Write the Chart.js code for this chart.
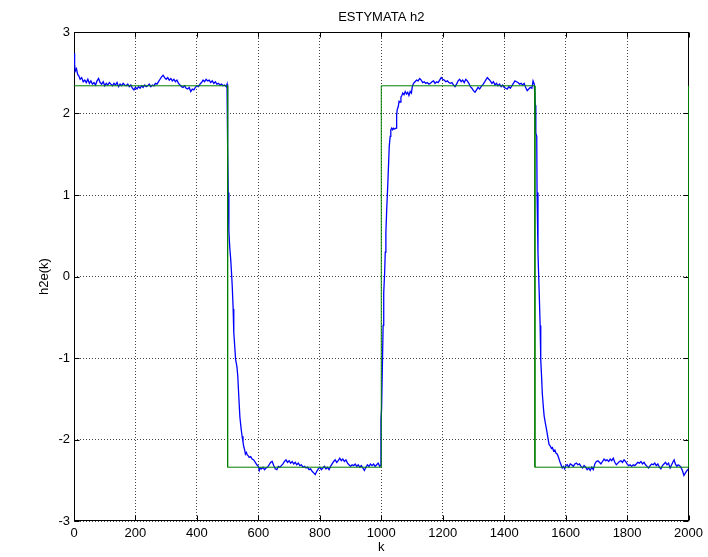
<!DOCTYPE html>
<html>
<head>
<meta charset="utf-8">
<title>ESTYMATA h2</title>
<script src="https://cdn.jsdelivr.net/npm/chart.js@4.4.1/dist/chart.umd.min.js"></script>
<style>
  html, body { margin: 0; padding: 0; background: #fff; }
  canvas { display: block; }
</style>
</head>
<body>
<canvas id="wykres" width="708" height="557"></canvas>
<script>
// tick values on both axes
var kTicks = [0, 200, 400, 600, 800, 1000, 1200, 1400, 1600, 1800, 2000];
var h2Ticks = [-3, -2, -1, 0, 1, 2, 3];

// true parameter h2 (square wave)
var refK  = [0, 500, 500, 1000, 1000, 1500, 1500, 2000, 2000];
var refH2 = [2.34, 2.34, -2.34, -2.34, 2.34, 2.34, -2.34, -2.34, 2.34];

// estimate h2e(k), [k, value]
var h2e = [
  [0,2.74],[2,2.60],[4,2.52],[8,2.55],[12,2.48],[16,2.46],[20,2.42],[25,2.44],[30,2.39],[35,2.41],
  [40,2.38],[45,2.42],[50,2.37],[55,2.40],[60,2.36],[65,2.38],[70,2.35],[75,2.40],[80,2.43],[85,2.38],
  [90,2.36],[95,2.39],[100,2.34],[105,2.37],[110,2.35],[115,2.38],[120,2.36],[125,2.34],[130,2.37],[135,2.35],
  [140,2.38],[145,2.33],[150,2.36],[155,2.34],[160,2.37],[165,2.35],[170,2.34],[175,2.36],[180,2.33],[185,2.35],
  [190,2.31],[195,2.29],[200,2.32],[205,2.30],[210,2.33],[215,2.31],[220,2.34],[225,2.32],[230,2.35],[235,2.33],
  [240,2.34],[245,2.36],[250,2.33],[255,2.35],[260,2.34],[265,2.37],[270,2.36],[275,2.39],[280,2.42],[285,2.45],
  [290,2.47],[295,2.44],[300,2.42],[305,2.44],[310,2.41],[315,2.43],[320,2.40],[325,2.42],[330,2.39],[335,2.41],
  [340,2.37],[345,2.35],[350,2.33],[355,2.32],[360,2.34],[365,2.31],[370,2.30],[375,2.32],[380,2.27],[385,2.30],
  [390,2.29],[395,2.32],[400,2.34],[405,2.33],[410,2.36],[415,2.38],[420,2.41],[425,2.39],[430,2.42],[435,2.40],
  [440,2.41],[445,2.38],[450,2.40],[455,2.37],[460,2.39],[465,2.36],[470,2.37],[475,2.35],[480,2.36],[485,2.34],
  [490,2.35],[495,2.33],[498,2.36],
  [500,1.60],[502,1.03],[504,0.56],[507,0.35],[510,0.21],[513,0.02],[515,-0.12],[518,-0.40],[520,-0.69],[523,-0.85],
  [526,-1.02],[530,-1.10],[533,-1.22],[536,-1.45],[540,-1.73],[544,-1.87],[547,-1.96],[550,-2.03],[552,-2.08],[555,-2.12],
  [558,-2.18],[561,-2.16],[564,-2.19],[567,-2.20],[570,-2.22],[575,-2.21],[580,-2.24],[585,-2.25],[590,-2.28],[595,-2.31],
  [600,-2.33],[603,-2.38],[606,-2.35],[610,-2.36],[615,-2.34],[620,-2.37],[625,-2.35],[630,-2.34],[635,-2.31],[640,-2.28],
  [645,-2.27],[650,-2.32],[655,-2.36],[660,-2.37],[665,-2.33],[670,-2.34],[675,-2.32],[680,-2.30],[685,-2.27],[690,-2.25],
  [695,-2.28],[700,-2.26],[705,-2.29],[710,-2.27],[715,-2.30],[720,-2.28],[725,-2.31],[730,-2.29],[735,-2.32],[740,-2.31],
  [745,-2.34],[750,-2.33],[755,-2.35],[760,-2.34],[765,-2.37],[770,-2.36],[775,-2.39],[780,-2.41],[785,-2.43],[790,-2.39],
  [795,-2.36],[800,-2.34],[805,-2.37],[810,-2.35],[815,-2.33],[820,-2.36],[825,-2.34],[830,-2.37],[835,-2.33],[840,-2.30],
  [845,-2.27],[850,-2.25],[855,-2.28],[860,-2.26],[865,-2.23],[870,-2.26],[875,-2.24],[880,-2.27],[885,-2.25],[890,-2.29],
  [895,-2.31],[900,-2.33],[905,-2.31],[910,-2.32],[915,-2.30],[920,-2.33],[925,-2.31],[930,-2.34],[935,-2.32],[940,-2.35],
  [945,-2.38],[950,-2.34],[955,-2.31],[960,-2.33],[965,-2.30],[970,-2.32],[975,-2.30],[980,-2.33],[985,-2.31],[990,-2.29],
  [995,-2.33],[998,-2.32],
  [999,-1.75],[1001,-1.63],[1004,-1.02],[1006,-0.60],[1008,-0.20],[1011,0.05],[1013,0.30],[1015,0.54],[1018,0.85],[1021,1.11],
  [1024,1.40],[1026,1.60],[1029,1.72],[1031,1.80],[1034,1.82],[1037,1.80],[1040,1.82],[1044,1.81],[1048,1.82],[1050,1.98],
  [1052,2.05],[1055,2.08],[1058,2.15],[1061,2.14],[1064,2.20],[1067,2.22],[1070,2.25],[1074,2.23],[1078,2.27],[1082,2.24],
  [1086,2.26],[1090,2.22],[1094,2.27],[1098,2.25],[1101,2.33],[1105,2.37],[1110,2.39],[1115,2.41],[1120,2.40],[1125,2.43],
  [1130,2.41],[1135,2.38],[1140,2.39],[1145,2.37],[1150,2.38],[1155,2.36],[1160,2.37],[1165,2.39],[1170,2.40],[1175,2.37],
  [1180,2.39],[1185,2.38],[1190,2.41],[1195,2.44],[1200,2.42],[1205,2.41],[1210,2.39],[1215,2.40],[1220,2.38],[1225,2.37],
  [1230,2.38],[1235,2.35],[1240,2.33],[1245,2.36],[1250,2.40],[1255,2.42],[1260,2.39],[1265,2.41],[1270,2.38],[1275,2.42],
  [1280,2.40],[1285,2.37],[1290,2.33],[1295,2.31],[1300,2.28],[1305,2.26],[1310,2.29],[1315,2.32],[1320,2.30],[1325,2.33],
  [1330,2.35],[1335,2.38],[1340,2.41],[1345,2.44],[1350,2.42],[1355,2.40],[1360,2.37],[1365,2.39],[1370,2.35],[1375,2.37],
  [1380,2.34],[1385,2.36],[1390,2.33],[1395,2.35],[1400,2.32],[1405,2.31],[1410,2.30],[1415,2.33],[1420,2.31],[1425,2.34],
  [1430,2.37],[1435,2.40],[1440,2.39],[1445,2.38],[1450,2.36],[1455,2.37],[1460,2.35],[1465,2.37],[1470,2.32],[1475,2.28],
  [1480,2.30],[1485,2.32],[1490,2.31],[1494,2.40],[1498,2.36],
  [1501,2.10],[1503,1.76],[1506,1.72],[1507,1.03],[1510,0.29],[1514,-0.20],[1517,-0.60],[1519,-1.02],[1522,-1.25],[1524,-1.43],
  [1527,-1.58],[1530,-1.71],[1534,-1.80],[1538,-1.88],[1542,-1.97],[1546,-2.06],[1550,-2.08],[1554,-2.11],[1557,-2.10],[1561,-2.14],
  [1565,-2.13],[1569,-2.17],[1573,-2.18],[1577,-2.22],[1581,-2.27],[1585,-2.31],[1589,-2.35],[1593,-2.33],[1597,-2.36],[1601,-2.32],
  [1605,-2.31],[1610,-2.34],[1615,-2.30],[1620,-2.31],[1625,-2.33],[1630,-2.30],[1635,-2.29],[1640,-2.31],[1645,-2.30],[1650,-2.33],
  [1655,-2.35],[1660,-2.32],[1665,-2.34],[1670,-2.37],[1675,-2.35],[1680,-2.38],[1685,-2.34],[1690,-2.37],[1695,-2.30],[1700,-2.27],
  [1705,-2.26],[1710,-2.28],[1715,-2.30],[1720,-2.27],[1725,-2.24],[1730,-2.26],[1735,-2.25],[1740,-2.27],[1745,-2.24],[1750,-2.26],
  [1755,-2.23],[1760,-2.28],[1765,-2.31],[1770,-2.29],[1775,-2.27],[1780,-2.26],[1785,-2.28],[1790,-2.25],[1795,-2.27],[1800,-2.30],
  [1805,-2.32],[1810,-2.31],[1815,-2.33],[1820,-2.31],[1825,-2.32],[1830,-2.30],[1835,-2.28],[1840,-2.29],[1845,-2.27],[1850,-2.30],
  [1855,-2.28],[1860,-2.31],[1865,-2.33],[1870,-2.35],[1875,-2.32],[1880,-2.30],[1885,-2.31],[1890,-2.29],[1895,-2.32],[1900,-2.30],
  [1905,-2.34],[1910,-2.36],[1915,-2.32],[1920,-2.30],[1925,-2.28],[1930,-2.31],[1935,-2.29],[1940,-2.35],[1945,-2.31],[1950,-2.27],
  [1953,-2.25],[1957,-2.30],[1962,-2.33],[1966,-2.31],[1970,-2.32],[1975,-2.34],[1980,-2.38],[1985,-2.44],[1990,-2.41],[1995,-2.38],
  [2000,-2.36]
];

var FONT = '"Liberation Sans", Arial, sans-serif';

// matlab style box: closed frame, inward ticks, title and axis labels
var ramka = {
  id: 'ramka',
  beforeDatasetsDraw: function (chart) {
    var ctx = chart.ctx, a = chart.chartArea;
    var sx = chart.scales.x, sy = chart.scales.y;
    var L = Math.round(a.left) + 0.5, R = Math.round(a.right) - 0.5;
    var T = Math.round(a.top) + 0.5, B = Math.round(a.bottom) - 0.5;
    ctx.save();
    ctx.strokeStyle = '#000';
    ctx.lineWidth = 1;
    ctx.setLineDash([]);
    ctx.strokeRect(L, T, R - L, B - T);
    ctx.beginPath();
    kTicks.forEach(function (v) {
      var px = Math.round(sx.getPixelForValue(v)) + 0.5;
      ctx.moveTo(px, B); ctx.lineTo(px, B - 5);
      ctx.moveTo(px, T); ctx.lineTo(px, T + 5);
    });
    h2Ticks.forEach(function (v) {
      var py = Math.round(sy.getPixelForValue(v)) + 0.5;
      ctx.moveTo(L, py); ctx.lineTo(L + 5, py);
      ctx.moveTo(R, py); ctx.lineTo(R - 5, py);
    });
    ctx.stroke();
    ctx.restore();
  },
  afterDraw: function (chart) {
    var ctx = chart.ctx, a = chart.chartArea;
    var cx = (a.left + a.right) / 2, cy = (a.top + a.bottom) / 2;
    ctx.save();
    ctx.fillStyle = '#000';
    ctx.font = '13px ' + FONT;
    ctx.textAlign = 'center';
    ctx.textBaseline = 'middle';
    ctx.fillText('ESTYMATA h2', cx, 17);
    ctx.fillText('k', cx, 547);
    ctx.translate(44, cy);
    ctx.rotate(-Math.PI / 2);
    ctx.fillText('h2e(k)', 0, 0);
    ctx.restore();
  }
};

function plainLabel(v) { return String(v); }

new Chart(document.getElementById('wykres'), {
  type: 'line',
  data: {
    datasets: [
      {
        label: 'h2',
        data: refK.map(function (k, i) { return { x: k, y: refH2[i] }; }),
        borderColor: '#008000',
        borderWidth: 1,
        pointRadius: 0,
        tension: 0,
        clip: 2
      },
      {
        label: 'h2e',
        data: h2e.map(function (p) { return { x: p[0], y: p[1] }; }),
        borderColor: '#0000ff',
        borderWidth: 1.3,
        pointRadius: 0,
        tension: 0
      }
    ]
  },
  options: {
    responsive: false,
    animation: false,
    events: [],
    layout: { padding: { top: 32, right: 15, left: 0, bottom: 0 } },
    plugins: {
      legend: { display: false },
      title: { display: false },
      tooltip: { enabled: false }
    },
    scales: {
      x: {
        type: 'linear',
        min: 0,
        max: 2000,
        afterFit: function (s) { s.height = 36; },
        afterBuildTicks: function (s) { s.ticks = kTicks.map(function (v) { return { value: v }; }); },
        ticks: { color: '#000', padding: 5, maxRotation: 0, autoSkip: false, callback: plainLabel, font: { family: FONT, size: 13 } },
        grid: { color: '#444', lineWidth: 1, drawTicks: false, tickLength: 0 },
        border: { display: false, dash: [1, 2] }
      },
      y: {
        type: 'linear',
        min: -3,
        max: 3,
        afterFit: function (s) { s.width = 74; },
        afterBuildTicks: function (s) { s.ticks = h2Ticks.map(function (v) { return { value: v }; }); },
        ticks: { color: '#000', padding: 4, callback: plainLabel, font: { family: FONT, size: 13 } },
        grid: { color: '#444', lineWidth: 1, drawTicks: false, tickLength: 0 },
        border: { display: false, dash: [1, 2] }
      }
    }
  },
  plugins: [ramka]
});
</script>
</body>
</html>
